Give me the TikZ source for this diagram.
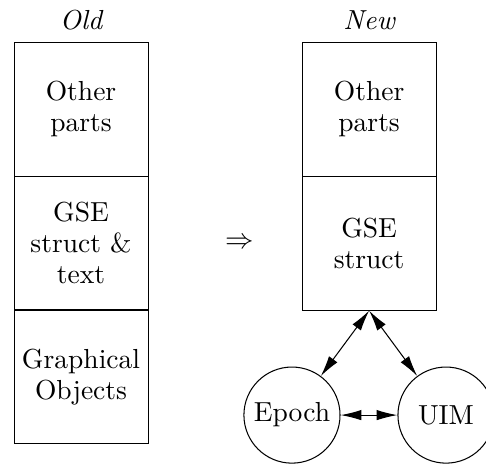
\documentclass[tikz,border=0pt]{standalone}
\usetikzlibrary{arrows.meta}

\begin{document}
\begin{tikzpicture}[x=1pt,y=1pt,
font=\fontsize{10.6}{12}\selectfont,
>={Latex[length=8pt,width=4pt]},
part/.style={%
draw,
align=center,
minimum width=51.6pt,
minimum height=51.6pt,
inner sep=0pt
},
head/.style={%
font=\fontsize{10.6}{12}\selectfont\itshape,
},
mod/.style={%
draw,
circle,
minimum size=37pt,
inner sep=0pt
},
]
\useasboundingbox (0,0) rectangle (187.1,-179);
%% Old layout
\node[head]at(31.2,-7.7)(oldh){Old};
\node[part]at(31.2,-42.0)(old1){Other\\parts};
\node[part]at(31.2,-93.6)(old2){GSE\\struct \&\\text};
\node[part]at(31.2,-145.1)(old3){Graphical\\Objects};
%% Change
\node at(92.4,-93.6)(chg){$\Rightarrow$};
%% New layout
\node[head]at(142.1,-7.7)(newh){New};
\node[part]at(142.1,-42.0)(new1){Other\\parts};
\node[part]at(142.1,-93.6)(new2){GSE\\struct};
\node[mod]at(112.4,-159.8)(epoch){Epoch};
\node[mod]at(171.7,-159.8)(uim){UIM};
\draw[<->] (new2.south)--(epoch);
\draw[<->] (new2.south)--(uim);
\draw[<->] (epoch)--(uim);
\end{tikzpicture}
\end{document}
